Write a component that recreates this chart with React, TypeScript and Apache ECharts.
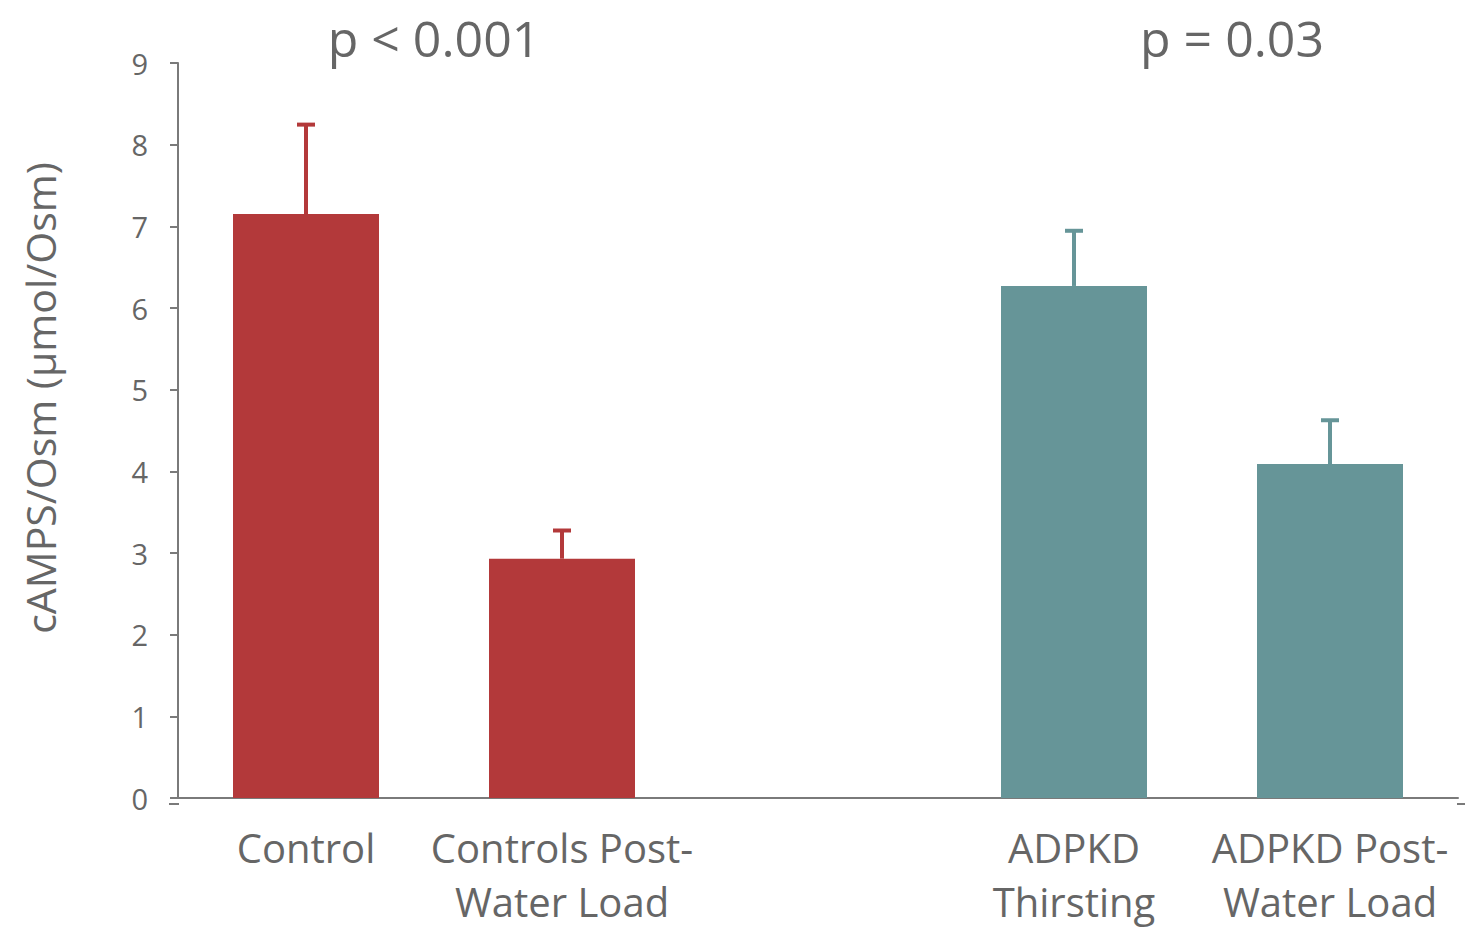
import React, { useEffect, useRef } from "react";
import * as echarts from "echarts";

const categories = ["Control", "Controls Post-\nWater Load", "", "ADPKD\nThirsting", "ADPKD Post-\nWater Load"];
const means = [7.15, 2.93, null, 6.27, 4.09];
const errorTops = [8.27, 3.3, null, 6.97, 4.65];
const barColors = ["#B3393A", "#B3393A", "#B3393A", "#669598", "#669598"];
const yTicks = [0, 1, 2, 3, 4, 5, 6, 7, 8, 9];
const pLabels = [
  { text: "p < 0.001", x: 434 },
  { text: "p = 0.03", x: 1232 },
];

const FONT = "'Open Sans', 'Noto Sans', sans-serif";
const GREY = "#666666";
const AXIS = "#7a7a7a";

export default function App() {
  const ref = useRef<HTMLDivElement>(null);
  useEffect(() => {
    document.body.style.margin = "0";
    const chart = echarts.init(ref.current!, null, { renderer: "svg" });
    const option: any = {
      animation: false,
      backgroundColor: "#ffffff",
      textStyle: { fontFamily: FONT },
      grid: { left: 178, right: 7, top: 63, bottom: 124, containLabel: false },
      xAxis: {
        type: "category",
        data: categories,
        boundaryGap: true,
        axisLine: { show: true, lineStyle: { color: AXIS, width: 2 } },
        axisTick: { show: false },
        axisLabel: {
          interval: 0,
          color: GREY,
          fontSize: 40,
          lineHeight: 54,
          margin: 22,
          fontFamily: FONT,
        },
      },
      yAxis: {
        type: "value",
        min: yTicks[0],
        max: yTicks[yTicks.length - 1],
        interval: 1,
        axisLine: { show: true, lineStyle: { color: AXIS, width: 2 } },
        axisTick: { show: true, length: 8, lineStyle: { color: AXIS, width: 2 } },
        splitLine: { show: false },
        axisLabel: { color: GREY, fontSize: 29, margin: 30, fontFamily: FONT },
      },
      series: [
        {
          type: "bar",
          barWidth: 146,
          data: means.map((v, i) => ({ value: v, itemStyle: { color: barColors[i] } })),
          z: 2,
        },
        {
          type: "custom",
          z: 3,
          data: means.map((v, i) => [i, v, errorTops[i]]),
          renderItem: (params: any, api: any) => {
            const lo = api.value(1);
            const hi = api.value(2);
            if (lo == null || hi == null || isNaN(lo) || isNaN(hi)) return null;
            const idx = api.value(0);
            const p0 = api.coord([idx, lo]);
            const p1 = api.coord([idx, hi]);
            const color = barColors[idx];
            return {
              type: "group",
              children: [
                {
                  type: "line",
                  shape: { x1: p0[0], y1: p0[1], x2: p1[0], y2: p1[1] + 2 },
                  style: { stroke: color, lineWidth: 4 },
                },
                {
                  type: "line",
                  shape: { x1: p1[0] - 9, y1: p1[1] + 2, x2: p1[0] + 9, y2: p1[1] + 2 },
                  style: { stroke: color, lineWidth: 4 },
                },
              ],
            };
          },
        },
      ],
      graphic: [
        {
          type: "text",
          x: 40,
          y: 398,
          rotation: Math.PI / 2,
          style: {
            text: "cAMPS/Osm (µmol/Osm)",
            fill: GREY,
            font: `41px ${FONT}`,
            align: "center",
            verticalAlign: "middle",
          },
        },
        ...pLabels.map((p) => ({
          type: "text",
          x: p.x,
          y: 38,
          style: {
            text: p.text,
            fill: GREY,
            font: `50px ${FONT}`,
            align: "center",
            verticalAlign: "middle",
          },
        })),
        {
          type: "line",
          shape: { x1: 169, y1: 804, x2: 179, y2: 804 },
          style: { stroke: AXIS, lineWidth: 2 },
        },
        {
          type: "line",
          shape: { x1: 1457, y1: 804, x2: 1465, y2: 804 },
          style: { stroke: AXIS, lineWidth: 2 },
        },
      ],
    };
    chart.setOption(option);
    return () => chart.dispose();
  }, []);
  return <div ref={ref} style={{ width: 1465, height: 928 }} />;
}
